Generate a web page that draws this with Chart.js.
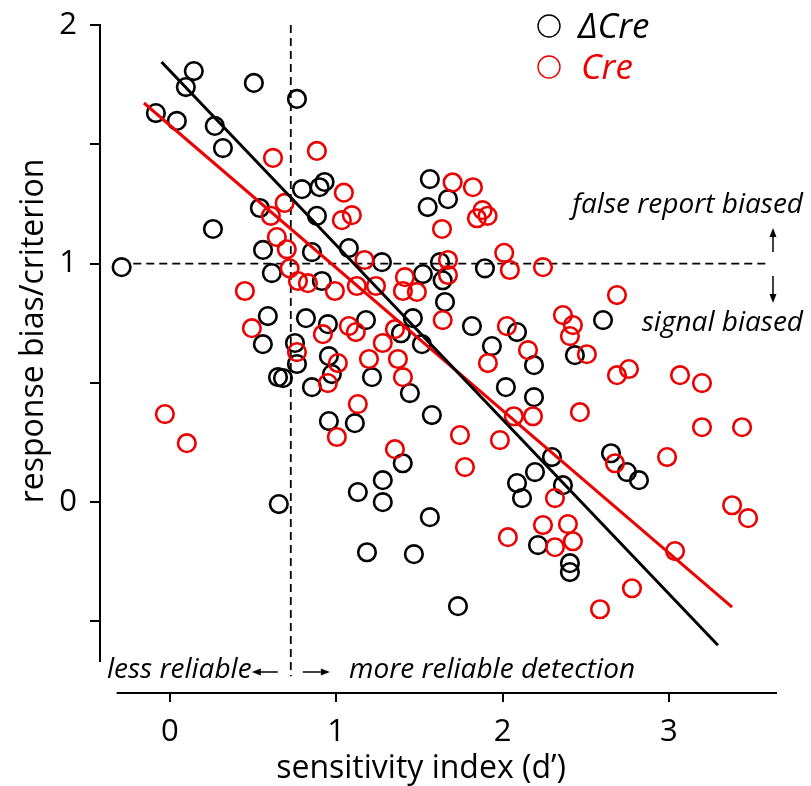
<!DOCTYPE html>
<html>
<head>
<meta charset="utf-8">
<script src="https://cdn.jsdelivr.net/npm/chart.js@4/dist/chart.umd.min.js"></script>
<style>
  html, body { margin: 0; padding: 0; background: #fff; }
  canvas { display: block; }
</style>
</head>
<body>
<canvas id="chart" width="811" height="786"></canvas>
<script>
// ΔCre (black) and Cre (red): sensitivity index d' vs response bias
const blackX = [0.144, 0.096, -0.084, 0.042, 0.505, 0.764, 0.27, 0.319, 0.259, 0.541, 0.794, 0.90, 0.93, 0.884, 1.076, 0.56, 0.854, 1.563, 1.55, 1.672, 1.275, -0.29, 0.613, 0.914, 1.521, 1.624, 1.64, 1.654, 0.589, 0.818, 0.95, 1.179, 0.559, 0.752, 0.764, 0.956, 0.65, 0.68, 0.854, 0.974, 1.215, 1.389, 1.461, 1.515, 1.443, 1.575, 0.956, 1.112, 1.40, 1.28, 1.13, 1.28, 0.655, 1.563, 1.185, 1.467, 1.894, 1.816, 2.087, 1.936, 2.189, 2.435, 2.604, 2.02, 2.189, 2.297, 2.195, 2.087, 2.117, 2.363, 2.652, 2.748, 2.82, 2.213, 2.405, 2.405, 1.732];
const blackY = [1.807, 1.74, 1.631, 1.598, 1.757, 1.69, 1.577, 1.484, 1.145, 1.233, 1.312, 1.32, 1.342, 1.20, 1.065, 1.057, 1.048, 1.354, 1.237, 1.27, 1.006, 0.985, 0.96, 0.927, 0.956, 1.006, 0.93, 0.839, 0.78, 0.771, 0.746, 0.763, 0.662, 0.667, 0.579, 0.612, 0.524, 0.52, 0.482, 0.537, 0.524, 0.708, 0.771, 0.662, 0.457, 0.365, 0.34, 0.331, 0.163, 0.092, 0.042, 0.0, -0.008, -0.063, -0.21, -0.218, 0.98, 0.738, 0.713, 0.654, 0.574, 0.616, 0.763, 0.482, 0.44, 0.189, 0.126, 0.08, 0.017, 0.071, 0.205, 0.126, 0.092, -0.18, -0.256, -0.293, -0.436];

const redX = [0.62, 0.884, 0.69, 0.607, 1.046, 1.094, 1.034, 0.643, 0.703, 1.70, 1.636, 1.17, 1.822, 1.88, 1.846, 1.91, 2.01, 0.72, 0.77, 0.83, 0.451, 0.992, 1.124, 1.239, 1.413, 1.401, 1.485, 1.672, 1.672, 1.64, 0.493, 0.92, 1.076, 1.118, 1.353, 1.28, 0.764, 1.01, 1.197, 1.371, 1.401, 0.95, 1.13, -0.03, 0.102, 1.004, 1.353, 2.044, 2.243, 2.688, 2.363, 2.423, 2.405, 2.026, 2.153, 2.507, 1.912, 2.688, 2.76, 3.067, 3.199, 2.465, 2.068, 2.183, 1.744, 1.984, 1.774, 3.199, 3.44, 2.989, 2.676, 2.315, 3.38, 3.476, 2.243, 2.393, 2.032, 2.315, 2.423, 3.037, 2.778, 2.586];
const redY = [1.443, 1.472, 1.254, 1.20, 1.297, 1.203, 1.182, 1.111, 1.06, 1.34, 1.145, 1.015, 1.32, 1.224, 1.19, 1.2, 1.045, 0.98, 0.927, 0.918, 0.885, 0.885, 0.906, 0.906, 0.943, 0.885, 0.881, 1.015, 0.952, 0.763, 0.729, 0.704, 0.738, 0.713, 0.725, 0.667, 0.629, 0.583, 0.60, 0.60, 0.524, 0.499, 0.411, 0.369, 0.247, 0.273, 0.222, 0.973, 0.985, 0.868, 0.784, 0.742, 0.696, 0.738, 0.637, 0.62, 0.583, 0.532, 0.558, 0.532, 0.499, 0.377, 0.36, 0.36, 0.281, 0.26, 0.147, 0.314, 0.314, 0.189, 0.163, 0.017, -0.013, -0.067, -0.096, -0.092, -0.147, -0.189, -0.164, -0.205, -0.361, -0.449];

// regression lines, [start, end]
const blackFitX = [-0.05, 3.295];
const blackFitY = [1.845, -0.60];
const redFitX = [-0.156, 3.38];
const redFitY = [1.673, -0.44];

// reference lines
const criterionY = 1;
const criterionSpanX = [-0.22, 3.6];
const thresholdX = 0.727;
const thresholdSpanY = [2, -0.73];

const xTicks = [0, 1, 2, 3];
const yTicks = [2, 1.5, 1, 0.5, 0, -0.5];
const xAxisSpan = [-0.32, 3.65];
const yAxisSpan = [2, -0.67];

const RED = 'rgb(236,0,0)';
const FONT = '"Open Sans", "Noto Sans", sans-serif';

const pts = (xs, ys) => xs.map((v, i) => ({ x: v, y: ys[i] }));

function arrow(ctx, x1, y1, x2, y2) {
    const a = Math.atan2(y2 - y1, x2 - x1);
    const hl = 9, hw = 3.5;
    ctx.beginPath();
    ctx.moveTo(x1, y1);
    ctx.lineTo(x2 - hl * Math.cos(a), y2 - hl * Math.sin(a));
    ctx.stroke();
    ctx.beginPath();
    ctx.moveTo(x2, y2);
    ctx.lineTo(x2 - hl * Math.cos(a) - hw * Math.sin(a), y2 - hl * Math.sin(a) + hw * Math.cos(a));
    ctx.lineTo(x2 - hl * Math.cos(a) + hw * Math.sin(a), y2 - hl * Math.sin(a) - hw * Math.cos(a));
    ctx.closePath();
    ctx.fill();
}

const decorations = {
    id: 'decorations',
    afterDraw(chart) {
        const { ctx, chartArea } = chart;
        const x = chart.scales.x, y = chart.scales.y;
        ctx.save();
        ctx.strokeStyle = '#000';
        ctx.fillStyle = '#000';

        // detached axis lines
        ctx.lineWidth = 2;
        ctx.beginPath();
        ctx.moveTo(chartArea.left, y.getPixelForValue(yAxisSpan[0]) - 1);
        ctx.lineTo(chartArea.left, y.getPixelForValue(yAxisSpan[1]));
        ctx.moveTo(x.getPixelForValue(xAxisSpan[0]), chartArea.bottom);
        ctx.lineTo(x.getPixelForValue(xAxisSpan[1]), chartArea.bottom);
        ctx.stroke();

        // axis titles
        ctx.font = '32px ' + FONT;
        ctx.textAlign = 'center';
        ctx.textBaseline = 'alphabetic';
        ctx.fillText('sensitivity index (d\u2019)', 421, 778);
        ctx.save();
        ctx.translate(43, 331);
        ctx.rotate(-Math.PI / 2);
        ctx.fillText('response bias/criterion', 0, 0);
        ctx.restore();

        // annotations
        ctx.font = 'italic 28px ' + FONT;
        ctx.textAlign = 'right';
        ctx.fillText('false report biased', 803, 213);
        ctx.fillText('signal biased', 803, 331);
        ctx.textAlign = 'left';
        ctx.fillText('less reliable', 107, 678);
        ctx.fillText('more reliable detection', 349, 678);
        ctx.lineWidth = 1.5;
        const ax = x.getPixelForValue(thresholdX);
        arrow(ctx, 773, 252, 773, 228);
        arrow(ctx, 773, 276, 773, 303);
        arrow(ctx, ax - 13, 672, ax - 39, 672);
        arrow(ctx, ax + 12, 672, ax + 39, 672);

        // legend
        ctx.lineWidth = 1.4;
        ctx.beginPath();
        ctx.arc(549, 26, 11, 0, Math.PI * 2);
        ctx.stroke();
        ctx.strokeStyle = RED;
        ctx.beginPath();
        ctx.arc(549, 67, 11, 0, Math.PI * 2);
        ctx.stroke();
        ctx.font = 'italic 35px ' + FONT;
        ctx.fillText('\u0394Cre', 578, 38);
        ctx.fillStyle = RED;
        ctx.fillText('Cre', 581, 79);
        ctx.restore();
    }
};

new Chart(document.getElementById('chart'), {
    type: 'scatter',
    data: {
        datasets: [
            {
                label: 'ΔCre fit',
                data: pts(blackFitX, blackFitY),
                showLine: true, borderColor: '#000', borderWidth: 3,
                pointRadius: 0, order: 0
            },
            {
                label: 'Cre fit',
                data: pts(redFitX, redFitY),
                showLine: true, borderColor: RED, borderWidth: 3,
                pointRadius: 0, order: 1
            },
            {
                label: 'Cre',
                data: pts(redX, redY),
                pointRadius: 8.8, borderWidth: 2.6,
                borderColor: RED, backgroundColor: 'rgba(0,0,0,0)', order: 2
            },
            {
                label: 'ΔCre',
                data: pts(blackX, blackY),
                pointRadius: 8.8, borderWidth: 2.6,
                borderColor: '#000', backgroundColor: 'rgba(0,0,0,0)', order: 3
            },
            {
                label: 'criterion',
                data: criterionSpanX.map(v => ({ x: v, y: criterionY })),
                showLine: true, borderColor: '#000', borderWidth: 1.8,
                borderDash: [8, 5], pointRadius: 0, order: 4
            },
            {
                label: 'threshold',
                data: thresholdSpanY.map(v => ({ x: thresholdX, y: v })),
                showLine: true, borderColor: '#000', borderWidth: 1.8,
                borderDash: [8, 5], pointRadius: 0, order: 4
            }
        ]
    },
    options: {
        responsive: false,
        animation: false,
        events: [],
        clip: false,
        layout: { autoPadding: false, padding: { left: 0, right: 34, top: 25, bottom: 0 } },
        plugins: { legend: { display: false }, tooltip: { enabled: false } },
        scales: {
            x: {
                type: 'linear',
                min: -0.42, max: 3.65,
                afterFit: s => { s.height = 93; s.paddingLeft = 0; s.paddingRight = 0; },
                afterBuildTicks: s => { s.ticks = xTicks.map(v => ({ value: v })); },
                border: { display: false },
                grid: { drawOnChartArea: false, drawTicks: true, tickLength: 9, color: '#000', lineWidth: 2 },
                ticks: { color: '#000', font: { family: FONT, size: 31 }, padding: 12 }
            },
            y: {
                type: 'linear',
                min: -0.80, max: 2,
                afterFit: s => { s.width = 100; s.paddingTop = 0; s.paddingBottom = 0; },
                afterBuildTicks: s => { s.ticks = yTicks.map(v => ({ value: v })); },
                border: { display: false },
                grid: { drawOnChartArea: false, drawTicks: true, tickLength: 10, color: '#000', lineWidth: 2 },
                ticks: {
                    color: '#000', font: { family: FONT, size: 31 }, padding: 13,
                    callback: v => Number.isInteger(v) ? String(v) : ''
                }
            }
        }
    },
    plugins: [decorations]
});
</script>
</body>
</html>
